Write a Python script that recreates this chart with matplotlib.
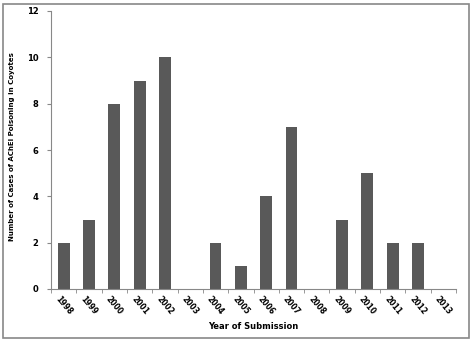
import matplotlib
matplotlib.use("Agg")
import matplotlib.pyplot as plt
from matplotlib.patches import Rectangle

years = ["1998", "1999", "2000", "2001", "2002", "2003", "2004", "2005",
         "2006", "2007", "2008", "2009", "2010", "2011", "2012", "2013"]
cases = [2, 3, 8, 9, 10, 0, 2, 1, 4, 7, 0, 3, 5, 2, 2, 0]

plt.rcParams['font.family'] = ['DejaVu Sans']
fig = plt.figure(figsize=(4.72, 3.42), dpi=100)
fig.patches.append(Rectangle((3/472, 4/342), 466/472, 334/342, transform=fig.transFigure,
                             fill=False, edgecolor='#888888', linewidth=1.2))
ax = fig.add_axes([51/472, 53/342, 405/472, 278/342])
x = list(range(len(years)))
ax.bar(x, cases, width=0.47, color='#595959')
ax.set_xlim(-0.5, len(years) - 0.5)
ax.set_ylim(0, 12)
ax.set_yticks(range(0, 13, 2))
ax.set_xticks(x)
ax.set_xticklabels(years, rotation=-50, ha='center', va='top', fontsize=5.5, fontweight='bold')
ax.set_xticks([i - 0.5 for i in range(len(years) + 1)], minor=True)
ax.tick_params(axis='x', which='major', length=0, pad=4)
ax.tick_params(axis='x', which='minor', length=3, color='#888888')
ax.tick_params(axis='y', length=3, color='#888888', labelsize=6, pad=6)
for lab in ax.get_yticklabels():
    lab.set_fontweight('bold')
for s in ['top', 'right']:
    ax.spines[s].set_visible(False)
for s in ['left', 'bottom']:
    ax.spines[s].set_color('#888888')
ax.set_xlabel('Year of Submission', fontsize=6, fontweight='bold', labelpad=4)
ax.set_ylabel('Number of Cases of AChEI Poisoning in Coyotes', fontsize=5.0, fontweight='bold')
ax.yaxis.set_label_coords(-0.089, 0.514)
fig.savefig('out.png', dpi=100)
